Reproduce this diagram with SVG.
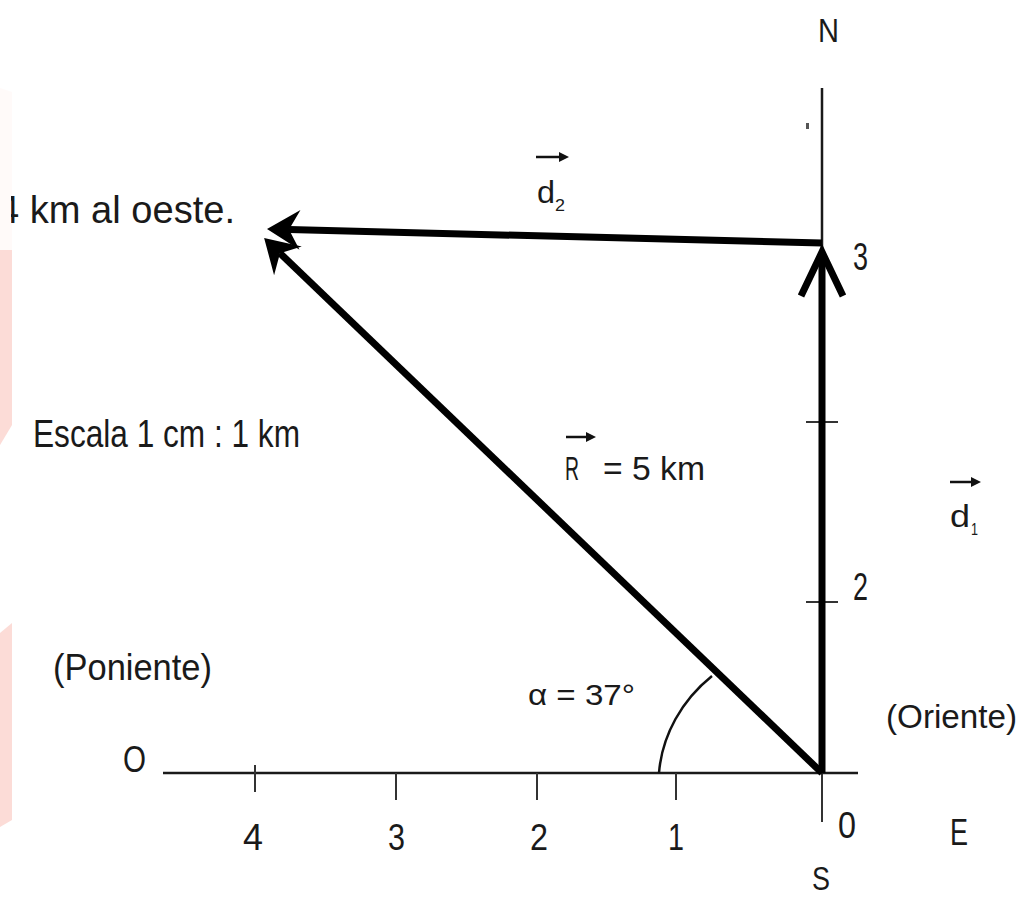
<svg xmlns="http://www.w3.org/2000/svg" width="1029" height="899" viewBox="0 0 1029 899">
<style>
  text{font-family:"Liberation Sans Narrow","Liberation Sans",Arial,sans-serif;fill:#1a1a1a}
  .ax{stroke:#1a1a1a;stroke-width:2.5;fill:none}
  .tk{stroke:#333;stroke-width:2;fill:none}
  .vec{stroke:#000;stroke-width:7;fill:none}
  .lbl{stroke:#111;stroke-width:2.5;fill:none}
  .pink{fill:#fcdcd7}
</style>
<defs>
  <marker id="barb" markerUnits="userSpaceOnUse" orient="auto" refX="0" refY="0" markerWidth="80" markerHeight="80" overflow="visible">
    <path d="M22,0 L-11,-20 L0,0 L-11,20 Z" fill="#000"/>
  </marker>
  <marker id="chev" markerUnits="userSpaceOnUse" orient="auto" refX="0" refY="0" markerWidth="80" markerHeight="80" overflow="visible">
    <path d="M-44,-21 L0,0 L-44,21" fill="none" stroke="#000" stroke-width="7"/>
  </marker>
  <marker id="small" markerUnits="userSpaceOnUse" orient="auto" refX="0" refY="0" markerWidth="20" markerHeight="20" overflow="visible">
    <path d="M0,-5 L10,0 L0,5 Z" fill="#111"/>
  </marker>
  <clipPath id="cut"><rect x="11" y="150" width="300" height="100"/></clipPath>
</defs>

<g id="background">
  <path class="pink" d="M0,88 L12,92 L12,425 L0,445 Z" opacity="0.15"/>
  <path class="pink" d="M0,250 L12,250 L12,425 L0,445 Z"/>
  <path class="pink" d="M0,633 L12,623 L12,820 L0,827 Z"/>
</g>

<g id="axes">
  <line class="ax" x1="822" y1="88" x2="822" y2="773"/>
  <line class="tk" x1="822" y1="773" x2="822" y2="822"/>
  <line class="ax" x1="163" y1="773" x2="858" y2="773"/>
  <line class="tk" x1="255" y1="765" x2="255" y2="792"/>
  <line class="tk" x1="396" y1="773" x2="396" y2="800"/>
  <line class="tk" x1="537" y1="773" x2="537" y2="800"/>
  <line class="tk" x1="676" y1="773" x2="676" y2="800"/>
  <line class="tk" x1="806" y1="422" x2="838" y2="422"/>
  <line class="tk" x1="806" y1="602" x2="838" y2="602"/>
  <rect x="806" y="123" width="3" height="6" fill="#555"/>
  <path id="angle-arc" d="M659,773 C662,735 682,700 712,676" fill="none" stroke="#111" stroke-width="2.5"/>
</g>

<g id="connectors">
  <line id="d1" class="vec" x1="822" y1="773" x2="822" y2="252" marker-end="url(#chev)"/>
  <line id="d2" class="vec" x1="822" y1="243" x2="289" y2="229.6" marker-end="url(#barb)"/>
  <line id="R" class="vec" stroke-width="6" x1="822" y1="773" x2="280" y2="253.2" marker-end="url(#barb)"/>
</g>

<g id="labels">
  <text x="818" y="42" font-size="34" textLength="21" lengthAdjust="spacingAndGlyphs">N</text>
  <text x="853" y="270" font-size="38" textLength="15" lengthAdjust="spacingAndGlyphs">3</text>
  <text x="853" y="600" font-size="38" textLength="15" lengthAdjust="spacingAndGlyphs">2</text>

  <text x="243" y="850" font-size="36" textLength="20" lengthAdjust="spacingAndGlyphs">4</text>
  <text x="388" y="850" font-size="36" textLength="17" lengthAdjust="spacingAndGlyphs">3</text>
  <text x="530" y="850" font-size="36" textLength="18" lengthAdjust="spacingAndGlyphs">2</text>
  <text x="668" y="850" font-size="36" textLength="16" lengthAdjust="spacingAndGlyphs">1</text>
  <text x="838" y="838" font-size="36" textLength="18" lengthAdjust="spacingAndGlyphs">0</text>
  <text x="950" y="845" font-size="36" textLength="18" lengthAdjust="spacingAndGlyphs">E</text>
  <text x="812" y="890" font-size="34" textLength="18" lengthAdjust="spacingAndGlyphs">S</text>
  <text x="123" y="772" font-size="36" textLength="23" lengthAdjust="spacingAndGlyphs">O</text>

  <text x="53" y="680" font-size="37" textLength="159" lengthAdjust="spacingAndGlyphs">(Poniente)</text>
  <text x="886" y="728" font-size="34" textLength="131" lengthAdjust="spacingAndGlyphs">(Oriente)</text>
  <text x="33" y="447" font-size="38" textLength="267" lengthAdjust="spacingAndGlyphs">Escala 1 cm : 1 km</text>
  <text x="528" y="705" font-size="30" textLength="107" lengthAdjust="spacingAndGlyphs">α = 37°</text>

  <g clip-path="url(#cut)">
    <text x="-2" y="223" font-size="38" textLength="237" lengthAdjust="spacingAndGlyphs">4 km al oeste.</text>
  </g>

  <g id="label-R">
    <line class="lbl" x1="566" y1="437" x2="586" y2="437" marker-end="url(#small)"/>
    <text x="565" y="480" font-size="34" textLength="14" lengthAdjust="spacingAndGlyphs">R</text>
    <text x="603" y="480" font-size="34" textLength="102" lengthAdjust="spacingAndGlyphs">= 5 km</text>
  </g>
  <g id="label-d2">
    <line class="lbl" x1="536" y1="157" x2="559" y2="157" marker-end="url(#small)"/>
    <text x="537" y="203" font-size="32" textLength="18" lengthAdjust="spacingAndGlyphs">d</text>
    <text x="555" y="211" font-size="17" textLength="10" lengthAdjust="spacingAndGlyphs">2</text>
  </g>
  <g id="label-d1">
    <line class="lbl" x1="950" y1="482" x2="971" y2="482" marker-end="url(#small)"/>
    <text x="950" y="527" font-size="32" textLength="20" lengthAdjust="spacingAndGlyphs">d</text>
    <text x="971" y="535" font-size="17" textLength="7" lengthAdjust="spacingAndGlyphs">1</text>
  </g>
</g>
</svg>
